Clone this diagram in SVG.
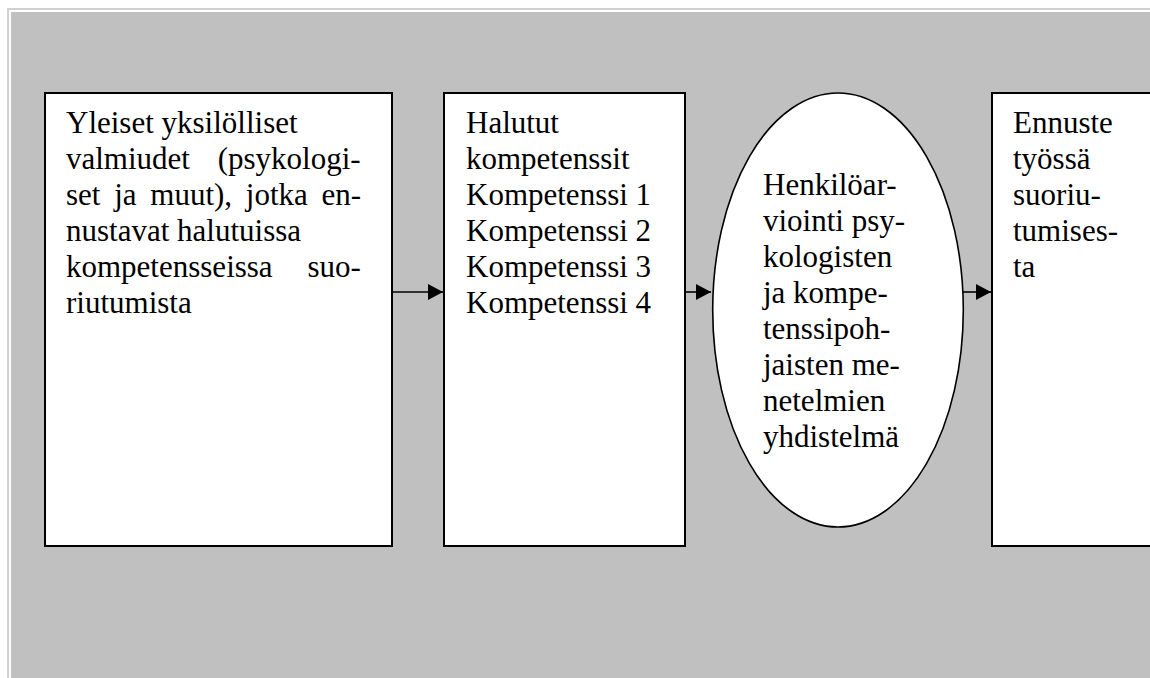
<svg xmlns="http://www.w3.org/2000/svg" width="1150" height="678" viewBox="0 0 1150 678">
<style>
.box{fill:#ffffff;stroke:#000000;stroke-width:2}
.ell{fill:#ffffff;stroke:#000000;stroke-width:1.6}
.t{font-family:"Liberation Serif","Times New Roman",serif;font-size:31px;fill:#000000}
.conn{stroke:#000000;stroke-width:1.6;fill:none}
</style>
<defs>
<marker id="ah" markerUnits="userSpaceOnUse" markerWidth="15" markerHeight="16" refX="15" refY="8" orient="auto">
<path d="M0,0 L15,8 L0,16 Z" fill="#000000"/>
</marker>
</defs>
<rect x="0" y="0" width="1150" height="678" fill="#ffffff"/>
<rect x="7" y="8" width="1150" height="680" fill="#d0d0d0"/>
<rect x="9" y="10" width="1150" height="680" fill="#ffffff"/>
<rect x="11" y="12" width="1150" height="680" fill="#c0c0c0"/>
<g id="connectors">
<line class="conn" x1="392" y1="292" x2="443" y2="292" marker-end="url(#ah)"/>
<line class="conn" x1="685" y1="292" x2="711" y2="292" marker-end="url(#ah)"/>
<line class="conn" x1="963" y1="292" x2="991" y2="292" marker-end="url(#ah)"/>
</g>
<g id="node-valmiudet">
<rect class="box" x="45" y="93" width="347" height="453"/>
<text class="t" x="66" y="133">Yleiset yksilölliset</text>
<text class="t" x="66" y="169" word-spacing="20">valmiudet (psykologi-</text>
<text class="t" x="66" y="205" word-spacing="6">set ja muut), jotka en-</text>
<text class="t" x="66" y="241">nustavat halutuissa</text>
<text class="t" x="66" y="277" word-spacing="27">kompetensseissa suo-</text>
<text class="t" x="66" y="313">riutumista</text>
</g>
<g id="node-kompetenssit">
<rect class="box" x="444" y="93" width="241" height="453"/>
<text class="t" x="466" y="133">Halutut</text>
<text class="t" x="466" y="169">kompetenssit</text>
<text class="t" x="466" y="205">Kompetenssi 1</text>
<text class="t" x="466" y="241">Kompetenssi 2</text>
<text class="t" x="466" y="277">Kompetenssi 3</text>
<text class="t" x="466" y="313">Kompetenssi 4</text>
</g>
<g id="node-henkiloarviointi">
<ellipse class="ell" cx="838" cy="310" rx="125.3" ry="217"/>
<text class="t" x="763" y="195">Henkilöar-</text>
<text class="t" x="763" y="231">viointi psy-</text>
<text class="t" x="763" y="267">kologisten</text>
<text class="t" x="763" y="303">ja kompe-</text>
<text class="t" x="763" y="339">tenssipoh-</text>
<text class="t" x="763" y="375">jaisten me-</text>
<text class="t" x="763" y="411">netelmien</text>
<text class="t" x="763" y="447">yhdistelmä</text>
</g>
<g id="node-ennuste">
<rect class="box" x="992" y="93" width="200" height="453"/>
<text class="t" x="1013" y="133">Ennuste</text>
<text class="t" x="1013" y="169">työssä</text>
<text class="t" x="1013" y="205">suoriu-</text>
<text class="t" x="1013" y="241">tumises-</text>
<text class="t" x="1013" y="277">ta</text>
</g>
</svg>
